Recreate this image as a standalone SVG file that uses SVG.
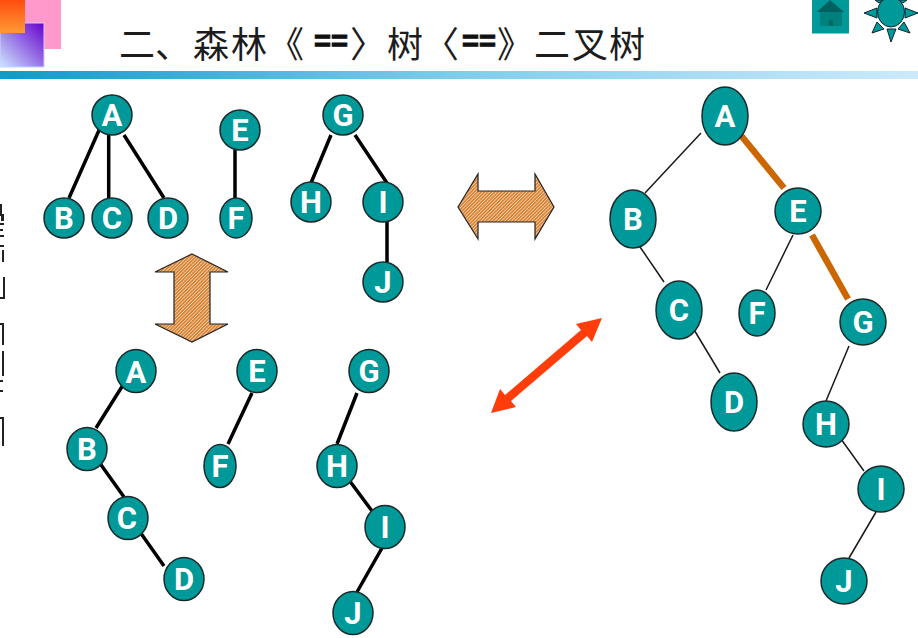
<svg xmlns="http://www.w3.org/2000/svg" width="918" height="638" viewBox="0 0 918 638">
<style>
.n ellipse{fill:#009999;stroke:#1a2a2a;stroke-width:1.5}
.n text{font-family:Roboto,"Liberation Sans",Arial,sans-serif;font-weight:700;font-size:31px;fill:#fff;text-anchor:middle}
.k{stroke:#000;stroke-width:3.5;stroke-linecap:butt;fill:none}
.t{stroke:#1a1a1a;stroke-width:1.5;fill:none}
.o{stroke:#cc6600;stroke-width:6.5;fill:none}
.h{fill:url(#hatch);stroke:#222;stroke-width:1.2}
.title{font-family:"Noto Sans CJK SC",sans-serif;font-size:36px;fill:#1c1c1c;font-weight:400}
.eq{font-family:"Liberation Sans",Arial,sans-serif;font-weight:700;font-size:29px;fill:#111;stroke:#111;stroke-width:1}
.ray{fill:#009999;stroke:#123;stroke-width:1}
</style>
<defs>
<linearGradient id="bar" x1="0" x2="1" y1="0" y2="0"><stop offset="0" stop-color="#0a9ccb"/><stop offset="0.5" stop-color="#7fcdec"/><stop offset="1" stop-color="#cdeafc"/></linearGradient>
<linearGradient id="org" x1="0" x2="0" y1="0" y2="1"><stop offset="0" stop-color="#ff4d10"/><stop offset="1" stop-color="#ff9933"/></linearGradient>
<linearGradient id="pur" x1="1" x2="0" y1="0" y2="1"><stop offset="0" stop-color="#6600cc"/><stop offset="1" stop-color="#cce8ff"/></linearGradient>
<pattern id="hatch" width="2.4" height="2.4" patternUnits="userSpaceOnUse" patternTransform="rotate(-45)"><rect width="2.4" height="2.4" fill="#fbeee0"/><rect width="2.4" height="1.8" fill="#d98232"/></pattern>
</defs>

<g id="header">
<rect x="0" y="0" width="61" height="49" fill="#ff99cc"/>
<rect x="0" y="23" width="44" height="44" fill="url(#pur)" stroke="#d8ccf5" stroke-width="1"/>
<rect x="0" y="0" width="25" height="33" fill="url(#org)"/>
<rect x="0" y="71" width="918" height="8" fill="url(#bar)"/>
<text class="title" y="58" x="119 155">二、</text>
<text class="title" y="58" x="193 231">森林</text>
<text class="title" y="58" x="268">《</text>
<text class="eq" y="51" x="314">==</text>
<text class="title" y="58" x="350">〉</text>
<text class="title" y="58" x="387">树</text>
<text class="title" y="58" x="423">〈</text>
<text class="eq" y="51" x="462">==</text>
<text class="title" y="58" x="497">》</text>
<text class="title" y="58" x="534 572 609">二叉树</text>
</g>

<g id="edge-fragments" fill="#222">
<rect x="0" y="204" width="2" height="12"/><rect x="1" y="214" width="3" height="7"/>
<rect x="0" y="223" width="4" height="2"/><rect x="0" y="229" width="3" height="2"/><rect x="0" y="235" width="4" height="2"/>
<rect x="0" y="245" width="4" height="2"/><rect x="2" y="250" width="2" height="12"/>
<rect x="3" y="277" width="2" height="22"/><rect x="0" y="297" width="4" height="2"/>
<rect x="0" y="323" width="4" height="2"/><rect x="2" y="324" width="2" height="21"/>
<rect x="2" y="351" width="2" height="25"/>
<rect x="0" y="380" width="3" height="2"/><rect x="0" y="390" width="3" height="2"/>
<rect x="0" y="417" width="4" height="2"/><rect x="2" y="418" width="2" height="28"/>
</g>

<g id="home-button">
<rect x="812" y="0" width="37" height="33.5" fill="#009999"/>
<rect x="820" y="12" width="22" height="14" fill="#007f7f"/>
<rect x="829" y="20" width="4" height="6" fill="#006666"/>
<polygon points="830,0 844,12 817,12" fill="#005f5f"/>
</g>
<g id="sun-button">
<polygon class="ray" points="864,13 877,8 877,18"/>
<polygon class="ray" points="918,13 905,8 905,18"/>
<polygon class="ray" points="891,42 887,29 896,29"/>
<polygon class="ray" points="872,33 877,22 884,29"/>
<polygon class="ray" points="910,33 898,29 904,22"/>
<polygon class="ray" points="875,0 883,0 879,3"/>
<polygon class="ray" points="899,0 907,0 903,3"/>
<ellipse cx="891" cy="12" rx="13.5" ry="15" fill="#009999" stroke="#123" stroke-width="1"/>
</g>

<g id="connectors">
<path class="k" d="M100,128L69,198M108.7,133V198M124,135L164,198M235,150V198M331,135L311,183M355,135L387,183M387,222V262"/>
<path class="k" d="M123,385L96,428M252,393L228,444M357,393L337,444M99,462L124,497M140,532L164,566M349,480L372,511M382,548L357,592"/>
<path class="t" d="M701,133L645,193M638,244L664,282M793,235L766,290M693,328L720,373M849,346L826,401M841,439L864,471M876,512L849,558"/>
<path class="o" d="M739,133L784,188M812,235L848,299"/>
</g>

<g id="arrow-vertical"><polygon class="h" points="192,254 228,272 210,272 210,324 228,324 192,342 155,324 174,324 174,272 155,272"/></g>
<g id="arrow-horizontal"><polygon class="h" points="458,207 478,174 478,191 535,191 535,174 554,207 535,239 535,222 478,222 478,239"/></g>
<g id="arrow-red"><polygon fill="#ff3d0a" points="602,318 592,342 587,336 511,401 516,407 491,413 500,389 505,395 581,330 576,324"/></g>

<g id="forest">
<g id="f-A" class="n"><ellipse cx="112" cy="115" rx="20" ry="20"/><text x="112" y="126">A</text></g>
<g id="f-B" class="n"><ellipse cx="64" cy="218" rx="20" ry="20"/><text x="64" y="229">B</text></g>
<g id="f-C" class="n"><ellipse cx="112" cy="218" rx="20" ry="20"/><text x="112" y="229">C</text></g>
<g id="f-D" class="n"><ellipse cx="168" cy="218" rx="20" ry="20"/><text x="168" y="229">D</text></g>
<g id="f-E" class="n"><ellipse cx="240" cy="130" rx="20" ry="20"/><text x="240" y="141">E</text></g>
<g id="f-F" class="n"><ellipse cx="236" cy="218" rx="16" ry="20"/><text x="236" y="229">F</text></g>
<g id="f-G" class="n"><ellipse cx="343" cy="115" rx="20" ry="20"/><text x="343" y="126">G</text></g>
<g id="f-H" class="n"><ellipse cx="311" cy="202" rx="20" ry="20"/><text x="311" y="213">H</text></g>
<g id="f-I" class="n"><ellipse cx="383" cy="202" rx="20" ry="20"/><text x="383" y="213">I</text></g>
<g id="f-J" class="n"><ellipse cx="383" cy="282" rx="20" ry="20"/><text x="383" y="293">J</text></g>
</g>

<g id="bintrees">
<g id="b-A" class="n"><ellipse cx="136" cy="371" rx="20" ry="21.5"/><text x="136" y="383">A</text></g>
<g id="b-B" class="n"><ellipse cx="87" cy="449" rx="20" ry="21.5"/><text x="87" y="460">B</text></g>
<g id="b-C" class="n"><ellipse cx="128" cy="518" rx="20" ry="21.5"/><text x="127" y="529">C</text></g>
<g id="b-D" class="n"><ellipse cx="184" cy="579" rx="20" ry="21.5"/><text x="184" y="590">D</text></g>
<g id="b-E" class="n"><ellipse cx="257" cy="371" rx="20" ry="21.5"/><text x="257" y="382">E</text></g>
<g id="b-F" class="n"><ellipse cx="220" cy="466" rx="16" ry="21.5"/><text x="220" y="477">F</text></g>
<g id="b-G" class="n"><ellipse cx="369" cy="371" rx="20" ry="21.5"/><text x="369" y="382">G</text></g>
<g id="b-H" class="n"><ellipse cx="337" cy="466" rx="20" ry="21.5"/><text x="337" y="477">H</text></g>
<g id="b-I" class="n"><ellipse cx="385" cy="527" rx="20" ry="21.5"/><text x="385" y="538">I</text></g>
<g id="b-J" class="n"><ellipse cx="353" cy="613" rx="20" ry="21.5"/><text x="353" y="624">J</text></g>
</g>

<g id="binary">
<g id="r-A" class="n"><ellipse cx="725" cy="116" rx="23" ry="29"/><text x="725" y="127">A</text></g>
<g id="r-B" class="n"><ellipse cx="633" cy="219" rx="23" ry="29"/><text x="633" y="230">B</text></g>
<g id="r-C" class="n"><ellipse cx="679" cy="310" rx="23" ry="29"/><text x="679" y="321">C</text></g>
<g id="r-D" class="n"><ellipse cx="734" cy="402" rx="23" ry="29"/><text x="734" y="413">D</text></g>
<g id="r-E" class="n"><ellipse cx="798" cy="211" rx="23" ry="23"/><text x="798" y="222">E</text></g>
<g id="r-F" class="n"><ellipse cx="757" cy="313" rx="18" ry="23"/><text x="757" y="324">F</text></g>
<g id="r-G" class="n"><ellipse cx="863" cy="322" rx="23" ry="23"/><text x="863" y="333">G</text></g>
<g id="r-H" class="n"><ellipse cx="826" cy="424" rx="23" ry="23"/><text x="826" y="435">H</text></g>
<g id="r-I" class="n"><ellipse cx="881" cy="489" rx="23" ry="23"/><text x="881" y="500">I</text></g>
<g id="r-J" class="n"><ellipse cx="844" cy="581" rx="23" ry="23"/><text x="844" y="592">J</text></g>
</g>
</svg>
